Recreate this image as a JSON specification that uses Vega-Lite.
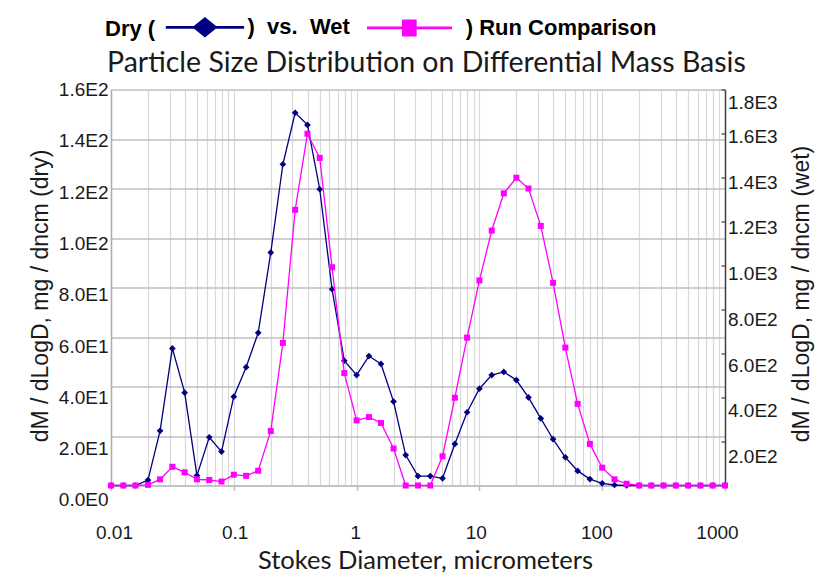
{
  "$schema": "https://vega.github.io/schema/vega-lite/v6.json",
  "width": 614,
  "height": 396,
  "autosize": {"type": "none"},
  "padding": {"left": 111, "top": 89.5, "right": 100, "bottom": 88.5},
  "background": "white",
  "title": {
    "text": "Particle Size Distribution on Differential Mass Basis",
    "anchor": "start",
    "frame": "group",
    "dx": -4,
    "offset": -61.5,
    "font": "Lato",
    "fontSize": 28.5,
    "fontWeight": "normal",
    "color": "#1a1a1a"
  },
  "data": {"values": [
    {"d":0.01,"s":"Dry","v":0},{"d":0.0126,"s":"Dry","v":0},{"d":0.0158,"s":"Dry","v":0},{"d":0.02,"s":"Dry","v":2.2},
    {"d":0.0251,"s":"Dry","v":22.1},{"d":0.0316,"s":"Dry","v":55.4},{"d":0.0398,"s":"Dry","v":37.5},{"d":0.0501,"s":"Dry","v":4.0},
    {"d":0.0631,"s":"Dry","v":19.5},{"d":0.0794,"s":"Dry","v":13.7},{"d":0.1,"s":"Dry","v":35.9},{"d":0.126,"s":"Dry","v":47.8},
    {"d":0.158,"s":"Dry","v":61.7},{"d":0.2,"s":"Dry","v":94.1},{"d":0.251,"s":"Dry","v":129.8},{"d":0.316,"s":"Dry","v":150.6},
    {"d":0.398,"s":"Dry","v":145.7},{"d":0.501,"s":"Dry","v":119.7},{"d":0.631,"s":"Dry","v":79.3},{"d":0.794,"s":"Dry","v":50.4},
    {"d":1,"s":"Dry","v":44.6},{"d":1.26,"s":"Dry","v":52.3},{"d":1.58,"s":"Dry","v":49.1},{"d":2,"s":"Dry","v":33.9},
    {"d":2.51,"s":"Dry","v":12.3},{"d":3.16,"s":"Dry","v":3.8},{"d":3.98,"s":"Dry","v":3.8},{"d":5.01,"s":"Dry","v":2.9},
    {"d":6.31,"s":"Dry","v":16.8},{"d":7.94,"s":"Dry","v":29.6},{"d":10,"s":"Dry","v":39.1},{"d":12.6,"s":"Dry","v":44.6},
    {"d":15.8,"s":"Dry","v":45.9},{"d":20,"s":"Dry","v":42.6},{"d":25.1,"s":"Dry","v":35.6},{"d":31.6,"s":"Dry","v":27.1},
    {"d":39.8,"s":"Dry","v":18.7},{"d":50.1,"s":"Dry","v":11.4},{"d":63.1,"s":"Dry","v":5.9},{"d":79.4,"s":"Dry","v":2.6},
    {"d":100,"s":"Dry","v":0.9},{"d":126,"s":"Dry","v":0.2},{"d":158,"s":"Dry","v":0},{"d":200,"s":"Dry","v":0},
    {"d":251,"s":"Dry","v":0},{"d":316,"s":"Dry","v":0},{"d":398,"s":"Dry","v":0},{"d":501,"s":"Dry","v":0},
    {"d":631,"s":"Dry","v":0},{"d":794,"s":"Dry","v":0},{"d":1000,"s":"Dry","v":0},
    {"d":0.01,"s":"Wet","v":0},{"d":0.0126,"s":"Wet","v":0},{"d":0.0158,"s":"Wet","v":0},{"d":0.02,"s":"Wet","v":3},
    {"d":0.0251,"s":"Wet","v":28},{"d":0.0316,"s":"Wet","v":85},{"d":0.0398,"s":"Wet","v":60},{"d":0.0501,"s":"Wet","v":28},
    {"d":0.0631,"s":"Wet","v":25},{"d":0.0794,"s":"Wet","v":18},{"d":0.1,"s":"Wet","v":49},{"d":0.126,"s":"Wet","v":44},
    {"d":0.158,"s":"Wet","v":67},{"d":0.2,"s":"Wet","v":248},{"d":0.251,"s":"Wet","v":648},{"d":0.316,"s":"Wet","v":1253},
    {"d":0.398,"s":"Wet","v":1599},{"d":0.501,"s":"Wet","v":1489},{"d":0.631,"s":"Wet","v":992},{"d":0.794,"s":"Wet","v":511},
    {"d":1,"s":"Wet","v":296},{"d":1.26,"s":"Wet","v":311},{"d":1.58,"s":"Wet","v":284},{"d":2,"s":"Wet","v":168},
    {"d":2.51,"s":"Wet","v":0},{"d":3.16,"s":"Wet","v":0},{"d":3.98,"s":"Wet","v":0},{"d":5.01,"s":"Wet","v":133},
    {"d":6.31,"s":"Wet","v":399},{"d":7.94,"s":"Wet","v":672},{"d":10,"s":"Wet","v":932},{"d":12.6,"s":"Wet","v":1159},
    {"d":15.8,"s":"Wet","v":1328},{"d":20,"s":"Wet","v":1399},{"d":25.1,"s":"Wet","v":1350},{"d":31.6,"s":"Wet","v":1180},
    {"d":39.8,"s":"Wet","v":921},{"d":50.1,"s":"Wet","v":627},{"d":63.1,"s":"Wet","v":371},{"d":79.4,"s":"Wet","v":189},
    {"d":100,"s":"Wet","v":81},{"d":126,"s":"Wet","v":28},{"d":158,"s":"Wet","v":8},{"d":200,"s":"Wet","v":0},
    {"d":251,"s":"Wet","v":0},{"d":316,"s":"Wet","v":0},{"d":398,"s":"Wet","v":0},{"d":501,"s":"Wet","v":0},
    {"d":631,"s":"Wet","v":0},{"d":794,"s":"Wet","v":0},{"d":1000,"s":"Wet","v":0}
  ]},
  "encoding": {
    "x": {
      "field": "d",
      "type": "quantitative",
      "scale": {"type": "log", "domain": [0.01, 1000], "nice": false},
      "axis": {
        "title": "Stokes Diameter, micrometers",
        "titleFont": "Lato",
        "titleFontSize": 25.5,
        "titleFontWeight": "normal",
        "titleX": 314,
        "titleY": 74.5,
        "titleAlign": "center",
        "titleBaseline": "middle",
        "titleAngle": 0,
        "values": [0.01,0.02,0.03,0.04,0.05,0.06,0.07,0.08,0.09,0.1,0.2,0.3,0.4,0.5,0.6,0.7,0.8,0.9,1,2,3,4,5,6,7,8,9,10,20,30,40,50,60,70,80,90,100,200,300,400,500,600,700,800,900,1000],
        "labelExpr": "indexof([0.01,0.1,1,10,100,1000], datum.value) >= 0 ? '' + datum.value : ''",
        "labelFlush": false,
        "labelOverlap": false,
        "labelFontSize": 19,
        "labelPadding": 33,
        "labelBaseline": "top",
        "labelOffset": {"expr": "3 - (log(datum.value) / LN10 + 2) * 2.2"},
        "tickSize": 5,
        "tickColor": "#BFBFBF",
        "tickWidth": 1.5,
        "tickOpacity": {"condition": {"test": "indexof([0.01,0.1,1,10,100,1000], datum.value) >= 0", "value": 1}, "value": 0},
        "grid": true,
        "gridColor": "#D9D9D9",
        "gridWidth": 1.2,
        "domain": true,
        "domainColor": "#BFBFBF",
        "domainWidth": 1.5
      }
    }
  },
  "layer": [
    {
      "transform": [{"filter": "datum.s == 'Dry'"}],
      "mark": {"type": "line", "strokeWidth": 1.3, "point": {"shape": "diamond", "filled": true, "size": 45, "color": "#000080"}},
      "encoding": {
        "y": {
          "field": "v",
          "type": "quantitative",
          "scale": {"domain": [0, 160], "nice": false},
          "axis": {
            "orient": "left",
            "title": "dM / dLogD, mg / dncm (dry)",
            "titleFontSize": 23,
            "titleX": -71,
            "titleY": 206,
            "titleAngle": -90,
            "titleAlign": "center",
            "titleBaseline": "middle",
            "values": [0,20,40,60,80,100,120,140,160],
            "labelExpr": "replace(format(datum.value, '.1e'), 'e+', 'E')",
            "labelFontSize": 19,
            "labelPadding": 3,
            "labelOffset": {"expr": "(160 - datum.value) * 0.09"},
            "ticks": false,
            "tickSize": 0,
            "domain": true,
            "domainColor": "#ADADAD",
            "domainWidth": 1.5,
            "grid": true,
            "gridColor": "#BFBFBF",
            "gridWidth": 1.5
          }
        },
        "color": {
          "field": "s",
          "type": "nominal",
          "scale": {"domain": ["Dry", "Wet"], "range": ["#000080", "#FF00FF"]},
          "legend": {
            "orient": "none",
            "legendX": -6,
            "legendY": -74,
            "direction": "horizontal",
            "padding": 0,
            "title": "Dry (",
            "titleOrient": "left",
            "titleFont": "Liberation Sans",
            "titleFontSize": 22,
            "titleFontWeight": "bold",
            "titleColor": "#000000",
            "titlePadding": 8.3,
            "labelFont": "Liberation Sans",
            "labelFontSize": 22,
            "labelFontWeight": "bold",
            "labelColor": "#000000",
            "labelLimit": 400,
            "labelExpr": "datum.value == 'Dry' ? ')\u00A0\u00A0vs.\u00A0\u00A0Wet' : ') Run Comparison'",
            "symbolSize": 400,
            "symbolOffset": 29.15,
            "labelOffset": 31.1,
            "columnPadding": 11.2,
            "symbolStrokeWidth": 2.7,
            "encode": {
              "symbols": {"update": {
                "shape": {"signal": "datum.value == 'Dry' ? 'M-3.915,0H3.915M0,-0.85L1.05,0L0,0.85L-1.05,0Z' : 'M-3.915,0H4.585M-0.285,-0.72H0.915V0.72H-0.285Z'"},
                "fill": {"signal": "datum.value == 'Dry' ? '#000080' : '#FF00FF'"},
                "stroke": {"signal": "datum.value == 'Dry' ? '#000080' : '#FF00FF'"},
                "strokeWidth": {"value": 2.7},
                "opacity": {"value": 1},
                "size": {"value": 400}
              }},
              "labels": {"update": {"dx": {"signal": "datum.value == 'Wet' ? 17 : 0"}}}
            }
          }
        }
      }
    },
    {
      "transform": [{"filter": "datum.s == 'Wet'"}],
      "mark": {"type": "line", "strokeWidth": 1.3, "point": {"shape": "square", "filled": true, "size": 36, "color": "#FF00FF"}},
      "encoding": {
        "y": {
          "field": "v",
          "type": "quantitative",
          "scale": {"domain": [0, 1800], "nice": false},
          "axis": {
            "orient": "right",
            "title": "dM / dLogD, mg / dncm (wet)",
            "titleFontSize": 23,
            "titleX": 76,
            "titleY": 204,
            "titleAngle": -90,
            "titleAlign": "center",
            "titleBaseline": "middle",
            "values": [200,400,600,800,1000,1200,1400,1600,1800],
            "labelExpr": "replace(format(datum.value, '.1e'), 'e+', 'E')",
            "labelFontSize": 19,
            "labelPadding": 6.5,
            "labelOffset": {"expr": "datum.value == 1800 ? 13 : (1950 - datum.value) * 0.0086"},
            "ticks": true,
            "tickSize": -4,
            "tickColor": "#404040",
            "tickWidth": 1.2,
            "domain": true,
            "domainColor": "#404040",
            "domainWidth": 1.5,
            "grid": false
          }
        },
        "color": {"field": "s", "type": "nominal"}
      }
    }
  ],
  "resolve": {"scale": {"y": "independent"}},
  "config": {
    "view": {"stroke": null},
    "axis": {
      "labelFont": "Liberation Sans",
      "titleFont": "Liberation Sans",
      "labelColor": "#1a1a1a",
      "titleColor": "#1a1a1a",
      "titleFontWeight": "normal"
    }
  }
}
